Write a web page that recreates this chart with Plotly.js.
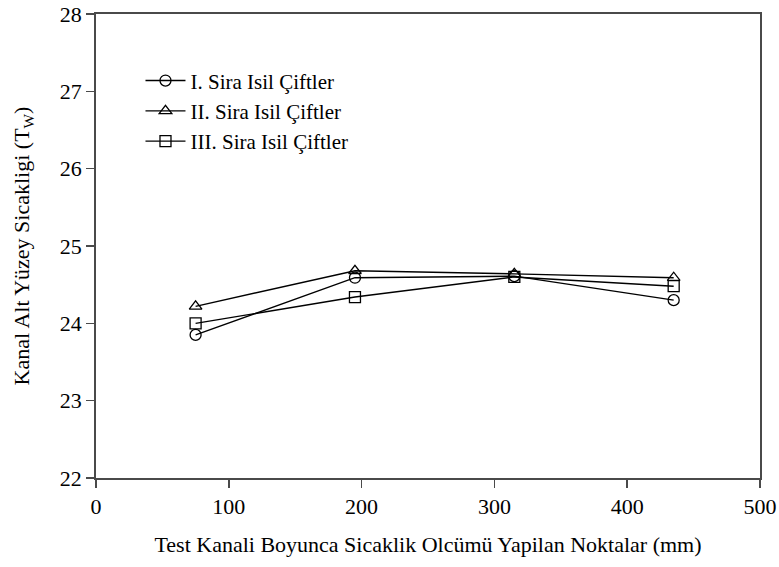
<!DOCTYPE html>
<html>
<head>
<meta charset="utf-8">
<script src="https://cdn.plot.ly/plotly-3.0.1.min.js"></script>
<style>
  html, body { margin: 0; padding: 0; background: #fff; }
  #chart { width: 779px; height: 567px; }
</style>
</head>
<body>
<div id="chart"></div>
<script>
// Measurement points along the test channel (mm)
const positions = [75, 195, 315, 435];

// Bottom surface temperature per thermocouple row
const row1 = [23.85, 24.59, 24.61, 24.30];
const row2 = [24.22, 24.68, 24.64, 24.59];
const row3 = [24.00, 24.34, 24.60, 24.48];

const seriesNames = ['I. Sira Isil Çiftler', 'II. Sira Isil Çiftler', 'III. Sira Isil Çiftler'];
const seriesSymbols = ['circle-open', 'triangle-up-open', 'square-open'];
const seriesValues = [row1, row2, row3];

const serif = '"Liberation Serif", "Times New Roman", Times, serif';

const traces = seriesValues.map((vals, i) => ({
  x: positions,
  y: vals,
  name: seriesNames[i],
  type: 'scatter',
  mode: 'lines+markers',
  line: { color: '#000', width: 1.4 },
  marker: {
    symbol: seriesSymbols[i],
    size: 11,
    color: '#000',
    line: { color: '#000', width: 1.3 }
  }
}));

const axisCommon = {
  showline: true,
  linecolor: '#4a4a4a',
  linewidth: 1.8,
  mirror: true,
  ticks: 'outside',
  ticklen: 8,
  tickwidth: 1.6,
  tickcolor: '#4a4a4a',
  showgrid: false,
  zeroline: false,
  tickfont: { family: serif, size: 22, color: '#000' }
};

const layout = {
  width: 779,
  height: 567,
  margin: { l: 96, r: 19, t: 14, b: 89 },
  paper_bgcolor: '#fff',
  plot_bgcolor: '#fff',
  showlegend: true,
  legend: {
    x: 0.067,
    y: 0.9,
    xanchor: 'left',
    yanchor: 'top',
    bgcolor: 'rgba(0,0,0,0)',
    font: { family: serif, size: 21, color: '#000' },
    tracegroupgap: 0,
    itemwidth: 40
  },
  xaxis: Object.assign({}, axisCommon, {
    range: [0, 500],
    dtick: 100,
    tick0: 0,
    title: {
      text: 'Test Kanali Boyunca Sicaklik Olcümü Yapilan Noktalar (mm)',
      font: { family: serif, size: 22, color: '#000' },
      standoff: 18
    }
  }),
  yaxis: Object.assign({}, axisCommon, {
    range: [22, 28],
    dtick: 1,
    tick0: 22,
    title: {
      text: 'Kanal Alt Yüzey Sicakligi (T<sub>W</sub>)',
      font: { family: serif, size: 22, color: '#000' },
      standoff: 24
    }
  })
};

Plotly.newPlot('chart', traces, layout, { displayModeBar: false, staticPlot: true });
</script>
</body>
</html>
